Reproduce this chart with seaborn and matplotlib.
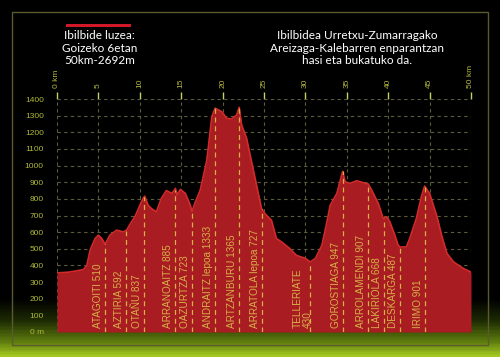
import numpy as np
import matplotlib.pyplot as plt
from matplotlib.colors import LinearSegmentedColormap
from matplotlib.patches import Rectangle
import seaborn as sns

# Profile (km, metres)
km = [0, 1.5, 3.2, 3.6, 4.0, 4.6, 5.0, 5.4, 5.8, 6.4, 7.2, 8.0, 8.4, 9.0, 9.4,
      10.0, 10.4, 10.6, 11.0, 11.4, 12.0, 12.6, 13.2, 13.9, 14.3, 14.5, 14.9,
      15.5, 16.1, 16.3, 16.7, 17.3, 18.1, 18.7, 19.1, 19.9, 20.5, 21.1, 21.7,
      22.0, 22.3, 22.9, 23.5, 24.1, 24.7, 25.1, 25.9, 26.5, 27.1, 28.1, 28.9,
      30.0, 30.6, 31.2, 32.0, 32.6, 33.0, 33.8, 34.5, 34.8, 35.4, 36.2, 37.0,
      37.6, 38.0, 38.8, 39.4, 39.8, 40.2, 40.8, 41.2, 41.4, 42.2, 42.6, 43.4,
      44.0, 44.4, 45.0, 45.9, 46.5, 47.1, 47.9, 49.1, 50.0]
elev = [355, 360, 375, 400, 492, 562, 582, 562, 528, 582, 612, 602, 612, 662, 692,
        760, 803, 816, 762, 742, 722, 803, 850, 833, 863, 823, 857,
        833, 762, 725, 780, 853, 1033, 1294, 1345, 1324, 1284, 1280, 1304,
        1350, 1244, 1164, 1023, 883, 742, 712, 672, 562, 542, 502, 461,
        442, 421, 442, 522, 662, 762, 833, 965, 903, 893, 909, 897,
        889, 853, 773, 682, 692, 662, 582, 522, 511, 511, 562, 682,
        812, 877, 833, 692, 572, 472, 421, 381, 360]

wp_names = ["ATAGOITI 510", "AZTIRIA 592", "OTAÑU 837", "ARRANOAITZ 885",
            "OAZURTZA 723", "ANDRAITZ lepoa 1333", "ARTZANBURU 1365",
            "ARRATOLA lepoa 727", "TELLERIATE\n430", "GOROSTIAGA 947",
            "ARROLAMENDI 907", "LAKIRIOLA 668", "DESKARGA 487", "IRIMO 901"]
wp_km = [5.8, 8.3, 10.5, 14.2, 16.3, 19.1, 22.0, 24.7, 30.6, 34.5, 37.6, 39.5, 41.4, 44.4]

km_ticks = list(range(0, 51, 5))
km_labels = ["0 km"] + [str(k) for k in km_ticks[1:-1]] + ["50 km"]
m_ticks = list(range(0, 1401, 100))
m_labels = ["0 m"] + [str(m) for m in m_ticks[1:]]

sns.set_style("dark")
plt.rcParams['font.family'] = ['Liberation Sans', 'DejaVu Sans']

fig = plt.figure(figsize=(5, 3.57), dpi=100, facecolor='black')

# background gradient
bg = fig.add_axes([0, 0, 1, 1], zorder=0)
cmap = LinearSegmentedColormap.from_list("bg", [(0, "#000000"), (0.84, "#000000"),
                                                (0.90, "#1c2a04"), (0.96, "#5e7c0e"),
                                                (1.0, "#a4c820")])
grad = np.linspace(0, 1, 357).reshape(-1, 1)
bg.imshow(grad, aspect='auto', cmap=cmap, extent=[0, 1, 0, 1], origin='upper')
bg.axis('off')
fig.patches.append(Rectangle((12 / 500, 12 / 357), 476 / 500, 333 / 357, transform=fig.transFigure,
                             fill=False, edgecolor='#5a5a2c', lw=1))

ax = fig.add_axes([57 / 500, 25 / 357, 414 / 500, 233 / 357], zorder=1)
ax.set_facecolor('none')

ax.fill_between(km, elev, 0, color='#a81c22', zorder=2, lw=0)
sns.lineplot(x=km, y=elev, ax=ax, color='#d42a2a', lw=1.2, zorder=3)

tops = np.interp(wp_km, km, elev)
ax.vlines(wp_km, 0, tops, colors='#d8b048', linestyles=(0, (4, 3)), lw=0.9, zorder=4)
for name, k in zip(wp_names, wp_km):
    off = -5.8 if "\n" in name else -5
    ax.annotate(name, xy=(k, 25), xytext=(off, 0), textcoords='offset points',
                rotation=90, ha='center', va='bottom', multialignment='left',
                fontsize=7.2, color='#d8b048', zorder=5, linespacing=1.0)

ax.set_xlim(0, 50)
ax.set_ylim(0, 1400)
ax.xaxis.tick_top()
ax.set_xticks(km_ticks)
ax.set_xticklabels(km_labels, rotation=90)
ax.set_yticks(m_ticks)
ax.set_yticklabels(m_labels)
ax.tick_params(axis='x', colors='#c8d060', labelcolor='#b8b840', length=5, width=1, pad=3, labelsize=6)
ax.tick_params(axis='y', colors='#c8d060', labelcolor='#b0b838', length=6, width=1, pad=3.5, labelsize=6)
ax.grid(True, color='#5c5c3c', ls=(0, (3, 3)), lw=0.8)
ax.set_axisbelow(True)
for s in ax.spines.values():
    s.set_visible(False)
ax.set_xlabel("")
ax.set_ylabel("")

# header texts
fig.patches.append(Rectangle((66 / 500, 1 - 27 / 357), 65 / 500, 3 / 357, transform=fig.transFigure,
                             color='#d01828', lw=0))
fig.text(99.5 / 500, 1 - 48 / 357, "Ibilbide luzea:\nGoizeko 6etan\n50km-2692m",
         ha='center', va='center', color='white', fontsize=8.5, family=['Lato', 'DejaVu Sans'],
         linespacing=1.15)
fig.text(357 / 500, 1 - 48 / 357,
         "Ibilbidea Urretxu-Zumarragako\nAreizaga-Kalebarren enparantzan\nhasi eta bukatuko da.",
         ha='center', va='center', color='white', fontsize=8.5, family=['Lato', 'DejaVu Sans'],
         linespacing=1.15)

fig.savefig("out.png", dpi=100, facecolor='black')
